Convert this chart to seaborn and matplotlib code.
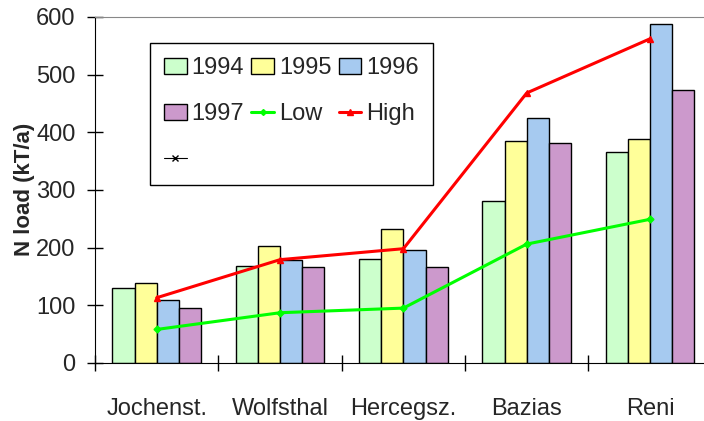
import numpy as np
import pandas as pd
import matplotlib
matplotlib.use("Agg")
import matplotlib.pyplot as plt
from matplotlib.lines import Line2D
import seaborn as sns

# ── data ──────────────────────────────────────────────────────────────
sites = ["Jochenst.", "Wolfsthal", "Hercegsz.", "Bazias", "Reni"]
years = ["1994", "1995", "1996", "1997"]
y1994 = [130, 168, 180, 280, 366]
y1995 = [139, 202, 233, 384, 389]
y1996 = [109, 179, 195, 424, 587]
y1997 = [95, 167, 167, 382, 473]
low = [58, 87, 95, 206, 249]
high = [113, 179, 198, 468, 562]

colors = ["#CCFFCC", "#FFFF99", "#A6CAF0", "#CC99CC"]

df = pd.DataFrame({
    "site": sites * 4,
    "year": sum([[y] * len(sites) for y in years], []),
    "load": y1994 + y1995 + y1996 + y1997,
})

# ── plot ──────────────────────────────────────────────────────────────
sns.set_style("white")
plt.rcParams["font.family"] = ["Liberation Sans", "DejaVu Sans"]

fig = plt.figure(figsize=(7.04, 4.21), dpi=100)
ax = fig.add_axes([0.135, 0.138, 0.876, 0.822])

sns.barplot(data=df, x="site", y="load", hue="year", palette=colors,
            width=0.72, gap=0, edgecolor="black", linewidth=1,
            saturation=1, ax=ax, legend=False)

xpos = np.arange(len(sites))
ax.plot(xpos, low, color="#00FF00", linewidth=2.2, marker="D", markersize=3.5)
ax.plot(xpos, high, color="#FF0000", linewidth=2.2, marker="^", markersize=4.5)

ax.set_xlim(-0.5, len(sites) - 0.5)
ax.set_ylim(0, 600)
ax.set_yticks(range(0, 601, 100))
ax.tick_params(axis="y", direction="inout", length=11, width=1, color="black",
               labelsize=17, pad=8.5, left=True)
ax.set_xticks(np.arange(-0.5, len(sites)), minor=True)
ax.tick_params(axis="x", which="minor", direction="inout", length=11, width=1,
               color="black", bottom=True)
ax.tick_params(axis="x", which="major", length=0, labelsize=17, pad=25)
ax.set_xlabel("")
ax.set_ylabel("N load (kT/a)", fontsize=16, fontweight="bold")
ax.yaxis.set_label_coords(-0.097, 0.5)

ax.spines["left"].set_color("black")
ax.spines["bottom"].set_color("black")
ax.spines["top"].set_color("#888888")
ax.spines["right"].set_visible(False)

# legend (column-major order to get rows 1994-1996 / 1997,Low,High / marker)
h94, h95, h96, h97 = [plt.Rectangle((0, 0), 1, 1, facecolor=c, edgecolor="black", linewidth=1)
                      for c in colors]
hlow = Line2D([], [], color="#00FF00", linewidth=2.2, marker="D", markersize=3)
hhigh = Line2D([], [], color="#FF0000", linewidth=2.2, marker="^", markersize=4)
hx = Line2D([], [], color="black", linewidth=0.8, marker="x", markersize=4)
handles = [h94, h97, hx, h95, hlow, h96, hhigh]
labels = ["1994", "1997", "", "1995", "Low", "1996", "High"]
leg = ax.legend(handles, labels, ncol=3, loc="upper left",
                bbox_to_anchor=(0.089, 0.925), fontsize=17, frameon=True,
                fancybox=False, framealpha=1, edgecolor="black",
                handlelength=0.95, handleheight=0.65, handletextpad=0.22,
                columnspacing=0.3, labelspacing=1.02, borderpad=0.6,
                borderaxespad=0)
leg.get_frame().set_linewidth(1)

plt.savefig("out.png", dpi=100)
